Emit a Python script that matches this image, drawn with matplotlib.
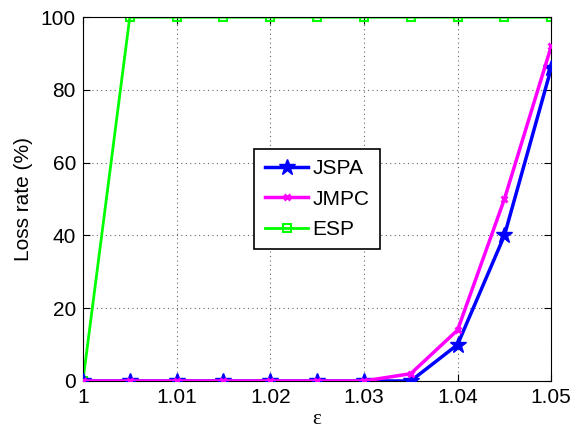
import matplotlib
matplotlib.use("Agg")
import matplotlib.pyplot as plt

plt.rcParams['font.family'] = ['Liberation Sans', 'DejaVu Sans']

# Data
eps = [1.0, 1.005, 1.01, 1.015, 1.02, 1.025, 1.03, 1.035, 1.04, 1.045, 1.05]
jspa = [0, 0, 0, 0, 0, 0, 0, 0, 10, 40, 86]
jmpc = [0, 0, 0, 0, 0, 0, 0, 2, 14, 50, 92]
esp = [0, 100, 100, 100, 100, 100, 100, 100, 100, 100, 100]
xticks = [1, 1.01, 1.02, 1.03, 1.04, 1.05]
xtick_labels = ["1", "1.01", "1.02", "1.03", "1.04", "1.05"]
yticks = [0, 20, 40, 60, 80, 100]

fig = plt.figure(figsize=(5.76, 4.3), dpi=100)
ax = fig.add_axes([0.144, 0.114, 0.813, 0.846])

ax.plot(eps, esp, color="#00ff00", lw=2, marker="s", ms=6, mfc="none", mew=1.5, label="ESP", zorder=2)
ax.plot(eps, jspa, color="blue", lw=2.5, marker="*", ms=12, label="JSPA", zorder=3)
ax.plot(eps, jmpc, color="magenta", lw=2.5, marker="x", ms=5, mew=2, label="JMPC", zorder=4)

ax.set_xlim(1, 1.05)
ax.set_ylim(0, 100)
ax.set_xticks(xticks)
ax.set_xticklabels(xtick_labels)
ax.set_yticks(yticks)
ax.tick_params(direction="in", labelsize=15, top=True, right=True, length=5, pad=5)
ax.grid(True, linestyle=(0, (1, 3)), color="black", linewidth=0.8, alpha=0.6)
ax.set_xlabel("ε", fontsize=15, family="Liberation Serif", labelpad=2)
ax.set_ylabel("Loss rate (%)", fontsize=15, labelpad=6)

handles, labels = ax.get_legend_handles_labels()
order = [1, 2, 0]
leg = ax.legend([handles[i] for i in order], [labels[i] for i in order],
                loc="center", fontsize=15, fancybox=False, framealpha=1,
                edgecolor="black", handlelength=2.1, handletextpad=0.2,
                borderpad=0.5, labelspacing=0.55)
leg.get_frame().set_linewidth(1.2)

fig.savefig("out.png", dpi=100)
